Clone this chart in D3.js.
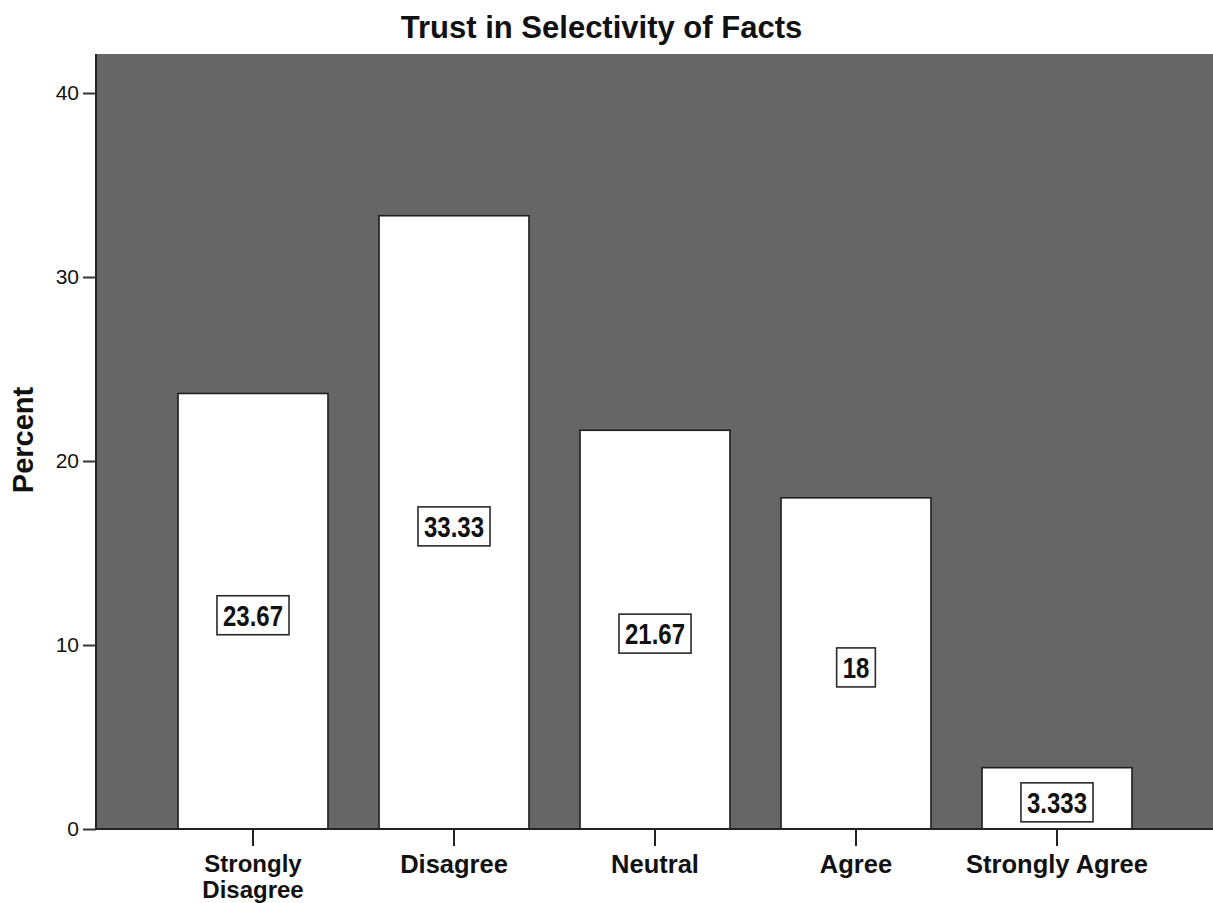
<!DOCTYPE html>
<html>
<head>
<meta charset="utf-8">
<script src="https://cdn.jsdelivr.net/npm/d3@7"></script>
<style>
  html, body { margin: 0; padding: 0; background: #ffffff; }
  svg { display: block; }
</style>
</head>
<body>
<svg id="chart" width="1213" height="903"></svg>
<script>
// Response categories and their share of respondents (%)
const categories = ["Strongly Disagree", "Disagree", "Neutral", "Agree", "Strongly Agree"];
const percents = [23.67, 33.33, 21.67, 18, 3.333];
const valueLabels = ["23.67", "33.33", "21.67", "18", "3.333"];
const yTicks = [0, 10, 20, 30, 40];
const titleText = "Trust in Selectivity of Facts";
const yTitle = "Percent";

const svg = d3.select("#chart");
const plot = { left: 96, right: 1213, top: 54, bottom: 829 };

const x = d3.scaleBand()
  .domain(categories)
  .range([152.5, 1157.5])
  .paddingInner(0.254)
  .paddingOuter(0.127);

const y = d3.scaleLinear()
  .domain([0, 42.12])
  .range([plot.bottom, plot.top]);

// plot background
svg.append("rect")
  .attr("x", plot.left).attr("y", plot.top)
  .attr("width", plot.right - plot.left)
  .attr("height", plot.bottom - plot.top)
  .attr("fill", "#666666");

// bars
svg.append("g").selectAll("rect")
  .data(categories)
  .join("rect")
  .attr("x", d => x(d))
  .attr("y", (d, i) => y(percents[i]))
  .attr("width", x.bandwidth())
  .attr("height", (d, i) => y(0) - y(percents[i]))
  .attr("fill", "#ffffff")
  .attr("stroke", "#1e1e1e")
  .attr("stroke-width", 1.6);

// value labels in boxes at the middle of each bar (condensed bold digits)
const squeeze = 0.8;
const labelG = svg.append("g");
categories.forEach((c, i) => {
  const cx = x(c) + x.bandwidth() / 2;
  const cy = y(percents[i] / 2) + 4;
  const g = labelG.append("g");
  const t = g.append("text")
    .attr("transform", `translate(${cx},${cy}) scale(${squeeze},1)`)
    .attr("text-anchor", "middle")
    .attr("dominant-baseline", "central")
    .attr("font-family", "'Liberation Sans', Arial, sans-serif")
    .attr("font-weight", "bold")
    .attr("font-size", 30)
    .attr("fill", "#111111")
    .text(valueLabels[i]);
  const w = t.node().getBBox().width * squeeze;
  g.insert("rect", "text")
    .attr("x", cx - w / 2 - 6).attr("y", cy - 19.5)
    .attr("width", w + 12).attr("height", 39)
    .attr("fill", "#ffffff")
    .attr("stroke", "#2a2a2a")
    .attr("stroke-width", 1.6);
});

// y axis
const yAxis = d3.axisLeft(y).tickValues(yTicks).tickSize(13).tickPadding(4).tickFormat(d3.format("d"));
const yg = svg.append("g").attr("transform", `translate(${plot.left},0)`).call(yAxis);
yg.select(".domain").attr("stroke", "#222").attr("stroke-width", 2).attr("d", `M0,${plot.top}V${plot.bottom}`);
yg.selectAll(".tick line").attr("stroke", "#333").attr("stroke-width", 2);
yg.selectAll(".tick text")
  .attr("font-family", "'Liberation Sans', Arial, sans-serif")
  .attr("font-size", 21)
  .attr("fill", "#111");

// x axis; the long first category wraps onto two lines
const xAxis = d3.axisBottom(x).tickSize(17).tickPadding(0);
const xg = svg.append("g").attr("transform", `translate(0,${plot.bottom})`).call(xAxis);
xg.select(".domain").attr("stroke", "#222").attr("stroke-width", 2).attr("d", `M${plot.left},0H${plot.right}`);
xg.selectAll(".tick line").attr("stroke", "#222").attr("stroke-width", 2);
xg.selectAll(".tick text").remove();
xg.selectAll(".tick").each(function (d) {
  const wrapped = d === "Strongly Disagree";
  const words = wrapped ? ["Strongly", "Disagree"] : [d];
  const t = d3.select(this).append("text")
    .attr("text-anchor", "middle")
    .attr("font-family", "'Liberation Sans', Arial, sans-serif")
    .attr("font-weight", "bold")
    .attr("font-size", wrapped ? 24 : 25.5)
    .attr("fill", "#111");
  words.forEach((w, k) => {
    t.append("tspan").attr("x", 0).attr("y", (wrapped ? 43 : 44) + k * 26).text(w);
  });
});

// y axis title
svg.append("text")
  .attr("transform", `translate(33,440) rotate(-90)`)
  .attr("text-anchor", "middle")
  .attr("font-family", "'Liberation Sans', Arial, sans-serif")
  .attr("font-weight", "bold")
  .attr("font-size", 29)
  .attr("fill", "#111")
  .text(yTitle);

// chart title
svg.append("text")
  .attr("x", 601.5).attr("y", 38)
  .attr("text-anchor", "middle")
  .attr("font-family", "'Liberation Sans', Arial, sans-serif")
  .attr("font-weight", "bold")
  .attr("font-size", 31)
  .attr("fill", "#111")
  .text(titleText);
</script>
</body>
</html>
